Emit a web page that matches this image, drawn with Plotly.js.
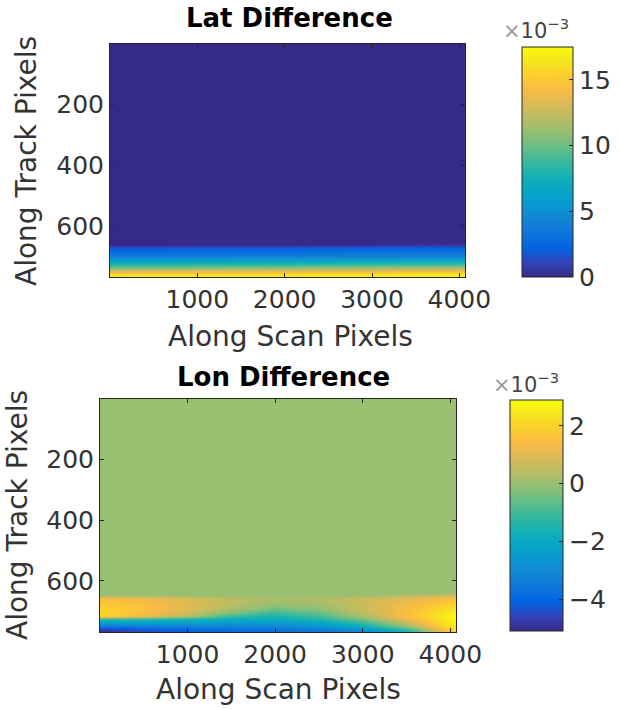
<!DOCTYPE html>
<html><head><meta charset="utf-8">
<script src="https://cdn.plot.ly/plotly-3.0.1.min.js"></script>
<style>html,body{margin:0;padding:0;background:#fff}</style>
</head><body>
<div id="chart" style="width:619px;height:709px"></div>
<script>
// ---- Data (values in units of 1e-3) ----
const scanTicks = [1000, 2000, 3000, 4000];
const trackTicks = [200, 400, 600];

// Lat difference: columns (along scan) and rows (along track)
const latCols = [1, 2000, 4064];
const latRows = [1, 654, 662, 672, 685, 698, 712, 725, 738, 750, 760, 768];
const latDiff = [
  [0.0, 0.0, 0.0],
  [0.0, 0.0, 0.0],
  [0.0, 0.2, 0.6],
  [1.8, 2.0, 2.3],
  [2.8, 3.0, 3.2],
  [3.8, 4.0, 4.3],
  [5.8, 6.0, 6.4],
  [8.0, 8.3, 8.8],
  [10.5, 11.0, 11.6],
  [13.2, 13.6, 14.3],
  [15.6, 16.0, 16.6],
  [17.4, 17.5, 17.5]
];
const latTicks = [0, 5, 10, 15];
const latRange = [0, 17.5];

// Lon difference
const lonCols = [1, 500, 1000, 1500, 2000, 2500, 3000, 3500, 4064];
const lonRows = [1, 636, 645, 655, 670, 690, 705, 716, 724, 735, 748, 758, 768];
const lonDiff = [
  [0, 0, 0, 0, 0, 0, 0, 0, 0],
  [0, 0, 0, 0, 0, 0, 0, 0, 0],
  [0, 0, 0, 0, 0, 0, 0, 0.3, 0.6],
  [1.4, 1.2, 0.8, 0.4, 0.2, 0.3, 0.6, 1.0, 1.5],
  [1.7, 1.4, 1.0, 0.5, 0.1, 0.2, 0.7, 1.2, 1.9],
  [2.0, 1.6, 1.0, 0.3, -0.4, -0.1, 0.7, 1.4, 2.4],
  [2.1, 1.5, 0.7, -0.4, -1.1, -0.6, 0.5, 1.5, 2.7],
  [1.9, 1.2, 0.2, -1.1, -1.5, -1.0, 0.2, 1.5, 2.85],
  [-1.2, -1.3, -1.5, -1.8, -1.9, -1.4, -0.4, 1.2, 2.9],
  [-2.2, -2.2, -2.3, -2.4, -2.4, -2.0, -1.0, 0.7, 2.8],
  [-3.5, -3.3, -3.2, -3.2, -3.1, -2.7, -1.8, 0.0, 2.7],
  [-4.7, -4.2, -3.8, -3.7, -3.6, -3.3, -2.6, -1.0, 2.4],
  [-5.1, -4.6, -4.3, -4.1, -4.0, -3.8, -3.3, -1.8, 2.0]
];
const lonTicks = [-4, -2, 0, 2];
const lonRange = [-5.1, 2.9];

// ---- Style ----
const parula = [
  [0/16, 'rgb(53,42,135)'], [1/16, 'rgb(50,67,186)'], [2/16, 'rgb(3,99,225)'],
  [3/16, 'rgb(13,117,220)'], [4/16, 'rgb(20,133,212)'], [5/16, 'rgb(9,152,209)'],
  [6/16, 'rgb(6,167,198)'], [7/16, 'rgb(21,177,180)'], [8/16, 'rgb(56,185,158)'],
  [9/16, 'rgb(101,190,134)'], [10/16, 'rgb(146,191,115)'], [11/16, 'rgb(183,189,100)'],
  [12/16, 'rgb(217,186,86)'], [13/16, 'rgb(248,187,68)'], [14/16, 'rgb(252,206,46)'],
  [15/16, 'rgb(245,228,29)'], [16/16, 'rgb(249,251,14)']
];
const W = 619, H = 709;
const FONT = 'DejaVu Sans';
const axCol = '#262626';
const tickFont = {family: FONT, size: 25, color: '#333'};
const px = v => v / W, py = v => 1 - v / H;

function axisStyle(extra) {
  return Object.assign({
    ticks: 'inside', ticklen: 4, tickcolor: axCol, tickwidth: 1,
    showline: true, linecolor: axCol, linewidth: 1, mirror: 'ticks',
    showgrid: false, zeroline: false, tickfont: tickFont, automargin: false
  }, extra);
}
function cbar(x, yb, len, thick, ticks) {
  return {
    x: px(x), xanchor: 'left', y: py(yb), yanchor: 'bottom',
    lenmode: 'pixels', len: len, thickness: thick, xpad: 0, ypad: 0,
    outlinewidth: 1, outlinecolor: axCol, ticks: 'inside', ticklen: 4,
    tickcolor: axCol, tickvals: ticks, tickfont: tickFont, tickprefix: '\u00a0'
  };
}

const traces = [
  {type: 'heatmap', x: latCols, y: latRows, z: latDiff, colorscale: parula,
   zmin: latRange[0], zmax: latRange[1], zsmooth: 'best', xaxis: 'x', yaxis: 'y',
   colorbar: cbar(522, 277, 230, 51, latTicks), hoverinfo: 'skip'},
  {type: 'heatmap', x: lonCols, y: lonRows, z: lonDiff, colorscale: parula,
   zmin: lonRange[0], zmax: lonRange[1], zsmooth: 'best', xaxis: 'x2', yaxis: 'y2',
   colorbar: cbar(510, 631, 231, 53, lonTicks), hoverinfo: 'skip'}
];

const titleFont = {family: FONT, size: 26, color: '#000', weight: 'bold'};
const labFont = {family: FONT, size: 28, color: '#333'};
const expFont = {family: FONT, size: 21, color: '#444'};
function ann(text, x, y, font, angle) {
  return {text: text, x: px(x), y: py(y), xref: 'paper', yref: 'paper',
          xanchor: 'center', yanchor: 'middle', showarrow: false, font: font,
          textangle: angle || 0};
}
const expText = '<span style="color:#999">×</span>10<sup>−3</sup>';

const layout = {
  width: W, height: H, margin: {l: 0, r: 0, t: 0, b: 0},
  paper_bgcolor: '#fff', plot_bgcolor: '#fff', showlegend: false,
  xaxis: axisStyle({domain: [px(110), px(465)], range: [0.5, 4064.5], tickvals: scanTicks, anchor: 'y'}),
  yaxis: axisStyle({domain: [py(277), py(44)], range: [768.5, 0.5], tickvals: trackTicks, anchor: 'x'}),
  xaxis2: axisStyle({domain: [px(100), px(456)], range: [0.5, 4064.5], tickvals: scanTicks, anchor: 'y2'}),
  yaxis2: axisStyle({domain: [py(632), py(399)], range: [768.5, 0.5], tickvals: trackTicks, anchor: 'x2'}),
  annotations: [
    ann('Lat Difference', 289, 18, titleFont),
    ann('Lon Difference', 283, 377, titleFont),
    ann('Along Scan Pixels', 290, 337, labFont),
    ann('Along Scan Pixels', 278, 689, labFont),
    ann('Along Track Pixels', 26, 161, labFont, -90),
    ann('Along Track Pixels', 17, 515, labFont, -90),
    ann(expText, 536, 29, expFont),
    ann(expText, 526, 383, expFont)
  ]
};

Plotly.newPlot('chart', traces, layout, {staticPlot: true, displayModeBar: false});
</script>
</body></html>
